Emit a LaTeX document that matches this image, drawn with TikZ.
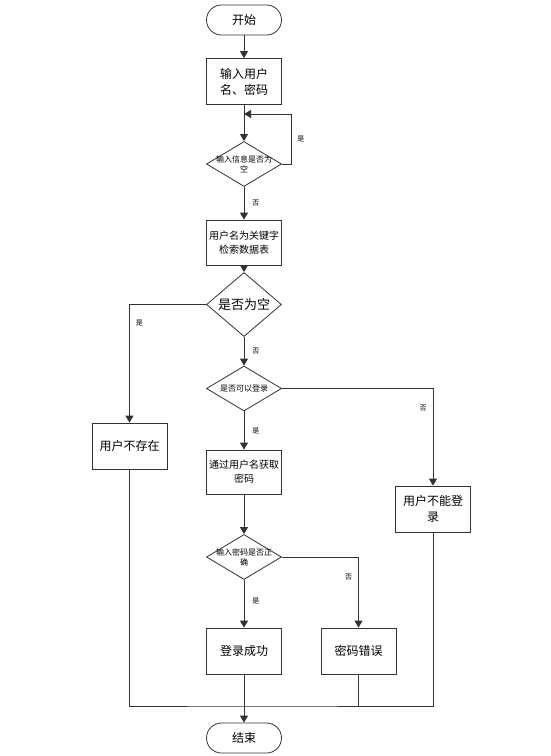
\documentclass[tikz,border=0pt]{standalone}
\usepackage{fontspec}
\newfontfamily\cjk{Noto Sans CJK SC}
\usetikzlibrary{shapes.geometric,arrows.meta}

\begin{document}
\begin{tikzpicture}[%
    x=1pt, y=-1pt,
    line width=0.8pt,
    flow/.style={draw=black!80, -{Triangle[width=8pt,length=7pt]}},
    plain/.style={draw=black!80},
    procbox/.style={
        draw=black!80, fill=white,
        minimum width=75pt, minimum height=46pt,
        inner sep=1pt, align=center,
        font=\cjk\fontsize{12}{16}\selectfont
    },
    smallbox/.style={procbox, font=\cjk\fontsize{10}{14}\selectfont},
    termbox/.style={procbox, rounded corners=15pt, minimum height=30pt},
    decide/.style={
        diamond, draw=black!80, fill=white,
        minimum width=75pt, minimum height=45pt, inner sep=0pt
    },
    decidetext/.style={align=center, font=\cjk\fontsize{8}{10}\selectfont},
    yesno/.style={font=\cjk\fontsize{7}{8}\selectfont, inner sep=2pt}
]
    % Page size of the picture.
    \useasboundingbox (0,0) rectangle (551,756);

    % Main column.
    \node[termbox] (start) at (244, 20) {开始};
    \node[procbox] (input) at (244, 81.5) {输入用户\\名、密码};
    \node[decide, label={[decidetext]center:输入信息是否为\\空}] (chk) at (244, 164) {};
    \node[smallbox, minimum height=45pt] (search) at (244, 242.5) {用户名为关键字\\检索数据表};
    \node[decide, font=\cjk\fontsize{13}{15}\selectfont] (empty) at (244, 304.5) {是否为空};
    \node[decide, label={[decidetext]center:是否可以登录}] (canlog) at (244, 388.5) {};
    \node[smallbox, minimum height=44pt] (getpw) at (244, 472) {通过用户名获取\\密码};
    \node[decide, label={[decidetext]center:输入密码是否正\\确}] (pwok) at (244, 557) {};
    \node[procbox] (success) at (244, 651) {登录成功};
    \node[termbox] (end) at (244, 738) {结束};

    % Side branches.
    \node[procbox] (noexist) at (129.5, 446) {用户不存在};
    \node[procbox] (cannot) at (433, 509) {用户不能登\\录};
    \node[procbox] (wrong) at (358.5, 651) {密码错误};

    % Points where lines turn or meet.
    \coordinate (loop) at (244, 114);
    \coordinate (merge) at (244, 706);

    % Connectors of the main column.
    \draw[flow] (start) -- (input);
    \draw[flow] (input) -- (chk);
    \draw[flow] (chk.east) -- ++(9,0) |- node[yesno, pos=0.25, right=4pt] {是} (loop);
    \draw[flow] (chk) -- node[yesno, right=6pt] {否} (search);
    \draw[flow] (search) -- (empty);
    \draw[flow] (empty) -- node[yesno, right=6pt] {否} (canlog);
    \draw[flow] (canlog) -- node[yesno, right=6pt] {是} (getpw);
    \draw[flow] (getpw) -- (pwok);
    \draw[flow] (pwok) -- node[yesno, pos=0.45, right=6pt] {是} (success);

    % Connectors to the side boxes.
    \draw[flow] (empty.west) -| node[yesno, pos=0.58, right=4pt] {是} (noexist.north);
    \draw[flow] (canlog.east) -| node[yesno, pos=0.6, left=4pt] {否} (cannot.north);
    \draw[flow] (pwok.east) -| node[yesno, pos=0.64, left=4pt] {否} (wrong.north);

    % All ends run into the end node.
    \draw[plain] (noexist.south) |- (merge) -| (cannot.south);
    \draw[plain] (wrong.south) -- (wrong.south |- merge);
    \draw[flow] (success) -- (end);
\end{tikzpicture}
\end{document}
